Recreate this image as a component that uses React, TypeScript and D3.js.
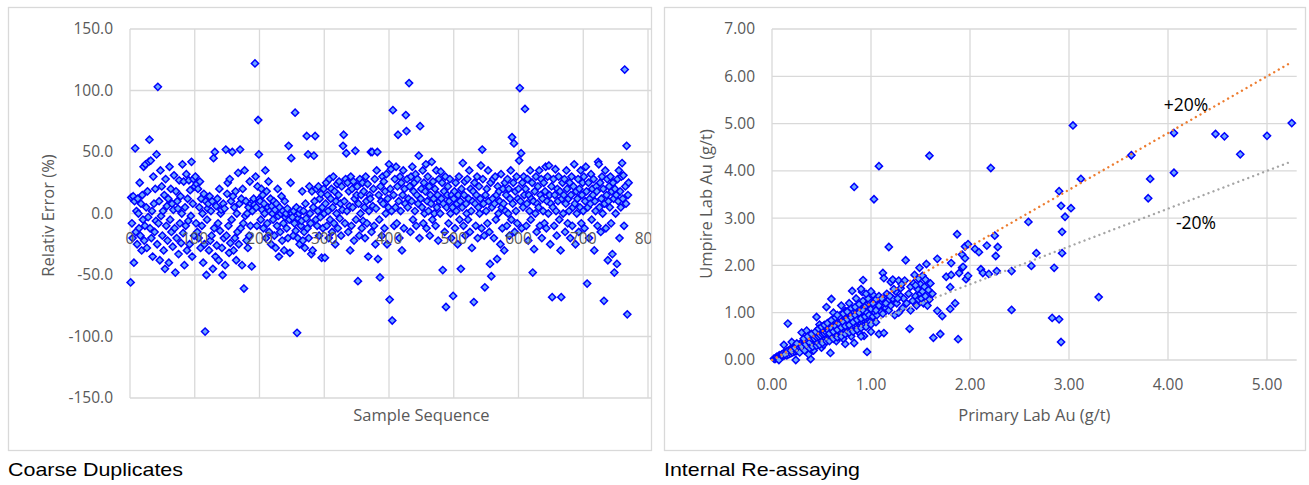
import React from "react";
import * as d3 from "d3";

// ---------- Coarse duplicates: relative error (%) by sample sequence (1..770) ----------
const coarseRelErr: number[] = [
  -56, 13, -8, -20, 14, -40, 10, 53, -15, 2,
  -25, 12, 0, -12, 25, -18, 8, -30, 15, -5,
  38, -22, -10, 40, 5, -28, 18, -3, 42, 60,
  -12, 43, -20, 2, -35, 30, 8, -15, 20, -6,
  48, -25, 103, -8, 10, -38, 35, -2, 22, -18,
  2, -30, 15, -45, 28, -10, 6, -22, 12, -40,
  38, -5, 20, -15, 8, -27, 3, 31, -12, -48,
  18, -20, 10, 4, -33, 27, -8, 14, -24, 0,
  40, -16, 26, -42, 5, -10, 32, -30, 12, -6,
  27, -25, 19, -2, 42, -35, 8, 28, -18, 22,
  30, -8, 24, -15, 20, -20, 5, 26, -28, 12,
  -10, 0, -40, 16, -25, -96, 10, -50, -5, 4,
  8, -30, 14, -22, 2, -18, 10, -45, 45, -12,
  50, -35, 6, -26, 12, -8, -38, 20, -14, 0,
  3, -28, -50, 8, -20, 4, -42, 52, -18, 16,
  25, -10, -32, 28, -24, 10, -5, 50, 14, -30,
  5, -20, 18, -38, 0, -15, 33, -25, 8, 52,
  -12, 12, -42, 20, -8, -61, 35, -2, 10, -22,
  0, -28, 5, -18, 26, -10, 8, -43, 2, 10,
  12, 7, 122, 30, 5, -10, 22, 76, 48, 12,
  10, -5, 20, 3, 15, -12, 8, 0, 35, -20,
  18, -8, 5, 26, -15, 2, 12, -25, 6, 0,
  -5, 10, -18, 3, -28, 8, -10, 20, -2, -35,
  5, -15, 0, 14, -22, 2, -8, -30, 10, -3,
  0, -12, 4, -20, 55, -5, -32, 25, 45, 0,
  -3, -18, 2, -8, 82, -14, 5, -97, -20, -4,
  0, -25, 3, -10, -6, 18, -22, 2, -15, -28,
  8, -4, 63, -12, 48, -20, 22, 0, -8, -33,
  18, -30, 5, 47, 10, 63, -5, 20, -10, 2,
  22, -18, 12, -3, 16, -36, 5, -12, 20, 0,
  -36, 8, 25, -10, 15, 2, -20, 28, -5, 12,
  20, -15, 5, 30, -8, 18, -25, 10, 0, 24,
  -12, 15, 26, -4, 8, -18, 22, 3, 55, 64,
  10, -8, 28, 49, 2, 25, -15, 18, 6, -30,
  30, -10, 20, 5, 26, -22, 12, 51, -5, 15,
  22, -55, 8, -18, 28, 0, 15, -12, 25, -6,
  18, 5, -20, 30, 10, -8, 24, -35, 2, 15,
  12, 50, -15, 50, 6, 20, -10, 28, -25, 4,
  35, 50, -37, 15, -5, -52, 22, 10, -18, 30,
  8, 26, -12, 18, 0, 32, -25, 12, 5, 40,
  -70, 20, 36, 2, -87, 84, 15, -10, 28, 5,
  38, -8, 22, 64, 10, -20, 30, 2, 25, -30,
  15, 35, -12, 20, 8, 80, 67, 28, 5, 12,
  106, 22, -15, 30, 10, 38, -5, 18, 25, 2,
  32, -10, 15, 28, 8, 47, -20, 71, 12, 20,
  5, 35, -8, 25, 0, 18, 40, -12, 10, 30,
  2, 22, -18, 15, 8, 42, -5, 26, 12, 0,
  20, -10, 35, 5, 15, -22, 28, 10, 0, 34,
  12, 25, -46, 8, 18, -15, 30, -76, 5, 15,
  22, -8, 10, 28, 0, -20, 15, 5, -67, 12,
  18, -12, 25, 2, 8, -25, 15, 30, -5, 10,
  -45, 20, 5, 41, -10, 15, 26, -18, 8, 0,
  28, -5, 12, 35, -15, 20, 2, -28, 10, 18,
  -72, 25, 8, -10, 15, 30, -20, 5, 22, 0,
  12, 39, -12, 52, 28, 8, -18, -60, 15, 2,
  20, -8, 35, 10, -15, -41, 25, -51, 5, 12,
  28, -20, 8, 30, -5, 15, -37, 22, 0, 18,
  10, -25, 32, 5, -12, 20, 8, -30, 25, 2,
  15, -10, 28, 0, 20, -18, 12, 35, -5, 62,
  8, 25, 57, -15, 18, 2, 30, -8, 12, 20,
  43, 102, 10, 49, -12, 25, 5, 30, 15, 85,
  20, -10, 8, 28, -22, 15, 2, 35, -5, 12,
  25, -48, 10, -29, 18, 0, 30, -15, 8, 22,
  5, 35, -10, 15, 28, -20, 12, 2, 25, -8,
  18, 38, -12, 10, 30, 0, 39, 15, -25, 8,
  22, -68, 5, 28, -10, 15, 36, 2, -18, 20,
  10, 30, -5, 18, -30, -68, 12, 25, 0, 15,
  28, -15, 8, 35, 20, -8, 12, 2, 25, -20,
  15, 30, -10, 5, 22, 40, 8, -25, 18, 0,
  12, 28, -15, 20, 5, 35, -8, 15, 25, 2,
  30, -12, 10, 38, 18, -57, 5, 25, -20, 12,
  8, 32, -5, 20, 15, 28, -30, 10, 2, 22,
  18, -10, 42, 40, 5, 25, -15, 12, 30, 0,
  20, -71, 8, 35, -12, 15, 28, -38, 10, 22,
  5, 30, -8, 18, -33, 25, 12, -48, 20, 0,
  15, -41, 28, 10, 35, -20, 18, 5, 30, 41,
  12, 31, -10, 117, 22, 8, 55, -82, 15, 25,
];

const coarseYTicks: number[] = [-150, -100, -50, 0, 50, 100, 150];
const coarseXTicks: number[] = [0, 100, 200, 300, 400, 500, 600, 700, 800, 900];

// ---------- Internal re-assaying: [primary Au g/t, umpire Au g/t] ----------
const reassayPairs: [number, number][] = [
  [0.02,0.03],[0.03,0.02],[0.04,0.05],[0.05,0.04],[0.05,0.07],[0.06,0.05],[0.07,0.09],[0.08,0.06],[0.08,0.1],[0.09,0.08],
  [0.1,0.12],[0.1,0.07],[0.11,0.1],[0.12,0.14],[0.12,0.09],[0.13,0.16],[0.14,0.11],[0.14,0.13],[0.15,0.18],[0.15,0.1],
  [0.16,0.15],[0.17,0.2],[0.17,0.12],[0.18,0.17],[0.18,0.22],[0.19,0.14],[0.2,0.19],[0.2,0.25],[0.21,0.16],[0.21,0.22],
  [0.22,0.2],[0.22,0.28],[0.23,0.18],[0.24,0.24],[0.24,0.3],[0.25,0.19],[0.25,0.26],[0.26,0.22],[0.26,0.33],[0.27,0.25],
  [0.28,0.21],[0.28,0.3],[0.29,0.27],[0.29,0.35],[0.3,0.24],[0.3,0.31],[0.31,0.28],[0.31,0.38],[0.32,0.26],[0.32,0.33],
  [0.16,0.77],[0.24,0.0],[0.39,0.02],[0.07,0.0],[0.12,0.32],[0.2,0.38],
  [0.33,0.3],[0.33,0.4],[0.34,0.28],[0.34,0.36],[0.35,0.32],[0.35,0.42],[0.36,0.3],[0.36,0.38],[0.37,0.35],[0.37,0.45],
  [0.38,0.31],[0.38,0.4],[0.39,0.36],[0.39,0.47],[0.4,0.33],[0.4,0.42],[0.41,0.38],[0.41,0.5],[0.42,0.35],[0.42,0.44],
  [0.43,0.4],[0.43,0.52],[0.44,0.37],[0.44,0.46],[0.45,0.42],[0.45,0.55],[0.46,0.38],[0.46,0.48],[0.47,0.44],[0.47,0.58],
  [0.48,0.4],[0.48,0.5],[0.49,0.46],[0.49,0.6],[0.5,0.42],[0.5,0.52],[0.51,0.48],[0.51,0.62],[0.52,0.44],[0.52,0.55],
  [0.53,0.5],[0.53,0.64],[0.54,0.46],[0.54,0.57],[0.55,0.52],[0.55,0.66],[0.56,0.47],[0.56,0.6],[0.57,0.54],[0.57,0.7],
  [0.58,0.49],[0.58,0.62],[0.59,0.56],[0.59,0.72],[0.6,0.5],[0.6,0.64],
  [0.45,0.91],[0.55,1.12],[0.6,1.29],[0.59,0.15],[0.37,0.12],[0.5,0.26],[0.42,0.2],[0.3,0.58],[0.35,0.62],[0.48,0.75],[0.52,0.32],
  [0.61,0.58],[0.61,0.74],[0.62,0.52],[0.62,0.66],[0.63,0.6],[0.63,0.78],[0.64,0.54],[0.64,0.68],[0.65,0.62],[0.65,0.8],
  [0.66,0.55],[0.66,0.7],[0.67,0.64],[0.67,0.82],[0.68,0.57],[0.68,0.72],[0.69,0.66],[0.69,0.85],[0.7,0.58],[0.7,0.74],
  [0.71,0.68],[0.71,0.88],[0.72,0.6],[0.72,0.76],[0.73,0.7],[0.73,0.9],[0.74,0.62],[0.74,0.34],[0.75,0.72],[0.75,0.92],
  [0.76,0.64],[0.76,0.8],[0.77,0.74],[0.77,0.95],[0.78,0.66],[0.78,0.82],[0.79,0.76],[0.79,0.98],[0.8,0.68],[0.8,0.85],
  [0.81,0.78],[0.81,1.46],[0.82,0.7],[0.82,0.88],[0.83,0.8],[0.83,1.02],[0.84,0.72],[0.84,0.9],[0.85,0.82],[0.85,1.05],
  [0.86,0.74],[0.86,0.92],[0.87,0.84],[0.87,1.08],[0.88,0.76],[0.88,0.95],[0.89,0.86],[0.89,1.1],[0.9,0.78],[0.9,0.97],
  [0.91,0.88],[0.91,1.44],[0.92,0.8],[0.92,1.69],[0.93,0.9],[0.93,1.12],[0.94,0.82],[0.94,1.02],[0.95,0.92],[0.95,1.15],
  [0.96,0.84],[0.96,0.17],[0.97,0.94],[0.97,1.2],[0.98,0.86],[0.98,1.05],[0.99,0.96],[0.99,1.22],[1.0,0.88],[1.0,1.08],
  [0.83,0.36],[0.65,0.4],[0.93,0.51],[0.74,1.04],[0.72,0.45],[0.8,0.5],[0.88,0.58],
  [0.11,0.13],[0.13,0.12],[0.16,0.19],[0.19,0.2],[0.23,0.26],[0.27,0.29],[0.3,0.28],[0.34,0.33],[0.36,0.41],[0.38,0.37],
  [0.4,0.46],[0.43,0.45],[0.45,0.48],[0.47,0.5],[0.49,0.52],[0.51,0.55],[0.53,0.56],[0.55,0.58],[0.57,0.62],[0.58,0.56],
  [0.6,0.68],[0.62,0.6],[0.64,0.72],[0.66,0.64],[0.68,0.76],[0.7,0.69],[0.72,0.8],[0.74,0.72],[0.76,0.86],[0.78,0.74],
  [0.8,0.9],[0.82,0.8],[0.84,0.95],[0.86,0.85],[0.88,1.0],[0.9,0.88],[0.92,1.05],[0.94,0.92],[0.96,1.0],[0.98,0.95],
  [0.63,0.86],[0.69,0.95],[0.75,1.02],[0.58,0.8],[0.52,0.72],[0.66,0.5],[0.77,0.6],[0.87,0.68],[0.93,0.72],[0.99,0.8],
  [0.25,0.35],[0.28,0.16],[0.32,0.45],[0.33,0.2],[0.36,0.5],[0.38,0.25],[0.4,0.55],[0.41,0.28],[0.44,0.6],[0.45,0.3],
  [0.47,0.66],[0.48,0.32],[0.5,0.7],[0.51,0.36],[0.53,0.74],[0.55,0.4],[0.56,0.78],[0.58,0.4],[0.6,0.84],[0.62,0.45],
  [0.64,0.9],[0.66,0.48],[0.68,0.92],[0.7,0.5],[0.72,0.98],[0.74,0.55],[0.76,1.02],[0.78,0.58],[0.8,1.1],[0.82,0.6],
  [0.84,1.12],[0.86,0.64],[0.88,1.18],[0.9,0.68],[0.92,1.25],[0.95,0.7],[0.97,1.3],[1.0,0.75],[1.02,1.38],[1.05,0.8],
  [0.85,1.3],[0.7,1.15],[0.62,1.0],[0.95,1.4],[1.0,1.45],[0.78,1.2],[0.9,0.5],[1.0,0.6],[0.9,1.5],[0.66,0.95],
  [1.02,0.92],[1.03,1.15],[1.04,1.0],[1.05,1.28],[1.06,0.95],[1.07,1.1],[1.08,0.55],[1.08,1.35],[1.1,1.02],[1.1,1.2],
  [1.12,1.84],[1.12,0.98],[1.13,1.73],[1.13,0.57],[1.14,1.3],[1.15,1.1],[1.16,1.4],[1.17,1.25],[1.18,2.39],[1.18,1.05],
  [1.2,1.65],[1.2,1.15],[1.22,1.7],[1.22,1.3],[1.24,0.95],[1.25,1.45],[1.26,1.2],[1.28,1.68],[1.28,1.0],[1.3,1.35],
  [1.3,1.52],[1.32,1.1],[1.33,1.3],[1.34,1.68],[1.35,2.11],[1.36,1.2],[1.38,1.4],[1.39,0.66],[1.4,1.05],[1.4,1.55],
  [1.42,1.25],[1.43,1.62],[1.44,1.8],[1.45,1.35],[1.46,1.15],[1.47,1.5],[1.48,1.72],[1.48,1.28],[1.49,1.95],[1.5,1.4],
  [1.5,1.6],[1.51,1.3],[1.52,1.78],[1.52,1.45],[1.53,1.2],[1.54,1.55],[1.55,1.35],[1.55,1.7],[1.56,2.03],[1.57,1.15],
  [1.58,1.48],[1.59,1.28],[1.6,1.62],[1.62,1.4],[1.63,0.47],[1.67,1.04],[1.67,2.14],[1.7,0.55],[1.72,0.93],
  [1.02,1.2],[1.05,1.05],[1.08,1.15],[1.11,1.3],[1.15,1.2],[1.19,1.35],[1.23,1.5],[1.27,1.3],[1.31,1.6],[1.45,1.58],
  [1.76,1.76],[1.8,1.54],[1.8,1.08],[1.81,1.8],[1.81,2.05],[1.85,1.2],[1.87,2.66],[1.88,0.44],[1.89,1.84],[1.92,1.95],
  [1.92,2.23],[1.93,1.97],[1.95,2.15],[1.95,2.4],[1.96,1.71],[1.98,1.78],[1.98,2.45],[2.05,2.35],[2.09,2.28],[2.11,1.92],
  [2.13,1.84],[2.17,2.42],[2.19,1.82],[2.21,4.06],[2.25,2.63],[2.26,2.2],[2.27,1.88],[2.28,2.39],[2.42,1.88],[2.42,1.06],
  [2.59,2.92],[2.62,1.99],[2.67,2.26],[2.83,0.89],[2.85,1.95],[2.9,0.86],[2.9,3.57],[2.92,0.38],[2.92,3.26],[2.93,2.26],
  [2.93,2.71],[2.96,3.03],[3.02,3.21],[3.04,4.96],[3.12,3.83],[3.3,1.33],[3.63,4.33],[3.8,3.42],[3.82,3.83],[4.06,4.8],
  [4.06,3.96],[4.48,4.78],[4.57,4.73],[4.73,4.35],[5.0,4.74],[5.25,5.01],
  [0.83,3.66],[1.03,3.4],[1.08,4.1],[1.59,4.32],
];

const reassayXTicks: number[] = [0, 1, 2, 3, 4, 5];
const reassayYTicks: number[] = [0, 1, 2, 3, 4, 5, 6, 7];
// +/-20% reference lines: [primary, umpire] end points
const plus20Line: [number, number][] = [[0, 0], [5.25, 6.3]];
const minus20Line: [number, number][] = [[0, 0], [5.25, 4.2]];

const GRID = "#D9D9D9";
const TXT = "#595959";
const FONT = "'Open Sans', sans-serif";

const diamond = (r: number) => `M0,${-r}L${r},0L0,${r}L${-r},0Z`;

function Marker({ x, y }: { x: number; y: number }) {
  return (
    <path
      d={diamond(3.6)}
      transform={`translate(${x},${y})`}
      fill="#6EA8FF"
      stroke="#0000FF"
      strokeWidth={1.5}
    />
  );
}

export default function App() {
  // Left chart scales
  const xL = d3.scaleLinear().domain([0, 900]).range([130, 712.75]);
  const yL = d3.scaleLinear().domain([-150, 150]).range([398, 29]);
  // Right chart scales
  const xR = d3.scaleLinear().domain([0, 5.3]).range([772, 1296.7]);
  const yR = d3.scaleLinear().domain([0, 7]).range([360, 29]);
  const line = d3
    .line<[number, number]>()
    .x((d) => xR(d[0]))
    .y((d) => yR(d[1]));

  return (
    <svg
      width={1309}
      height={485}
      style={{ position: "absolute", left: 0, top: 0, background: "#fff" }}
    >
      <defs>
        <clipPath id="leftClip">
          <rect x={8} y={7} width={643} height={444} />
        </clipPath>
      </defs>

      {/* ---------------- Left chart ---------------- */}
      <g clipPath="url(#leftClip)">
        {coarseYTicks.map((t) => (
          <line key={"lyg" + t} x1={xL(0)} x2={xL(900)} y1={yL(t)} y2={yL(t)} stroke={GRID} strokeWidth={1.3} />
        ))}
        {coarseXTicks.map((t) => (
          <line key={"lxg" + t} x1={xL(t)} x2={xL(t)} y1={yL(150)} y2={yL(-150)} stroke={GRID} strokeWidth={1.3} />
        ))}
        {coarseYTicks.map((t) => (
          <text key={"lyt" + t} x={113} y={yL(t)} dy="0.35em" textAnchor="end" fontFamily={FONT} fontSize={15.5} fill={TXT}>
            {t.toFixed(1)}
          </text>
        ))}
        {coarseRelErr.map((v, i) => (
          <Marker key={"lp" + i} x={xL(i + 1)} y={yL(v)} />
        ))}
        {coarseXTicks.map((t) => (
          <text key={"lxt" + t} x={xL(t)} y={yL(0) + 30} textAnchor="middle" fontFamily={FONT} fontSize={15.5} fill={TXT}>
            {t}
          </text>
        ))}
        <text
          transform={`translate(48,${(yL(150) + yL(-150)) / 2 + 2}) rotate(-90)`}
          textAnchor="middle"
          dy="0.35em"
          fontFamily={FONT}
          fontSize={16.5}
          fill={TXT}
        >
          Relativ Error (%)
        </text>
        <text x={(xL(0) + xL(900)) / 2} y={421} textAnchor="middle" fontFamily={FONT} fontSize={16.5} fill={TXT}>
          Sample Sequence
        </text>
      </g>
      <rect x={8.5} y={7.5} width={643} height={443} fill="none" stroke={GRID} strokeWidth={1.3} />
      <text x={8} y={476} fontFamily="'Liberation Sans', Arial, sans-serif" fontSize={18.5} fill="#000" textLength={175} lengthAdjust="spacingAndGlyphs">
        Coarse Duplicates
      </text>

      {/* ---------------- Right chart ---------------- */}
      {reassayYTicks.map((t) => (
        <line key={"ryg" + t} x1={xR(0)} x2={xR(5.3)} y1={yR(t)} y2={yR(t)} stroke={GRID} strokeWidth={1.3} />
      ))}
      {reassayXTicks.map((t) => (
        <line key={"rxg" + t} x1={xR(t)} x2={xR(t)} y1={yR(7)} y2={yR(0)} stroke={GRID} strokeWidth={1.3} />
      ))}
      {reassayYTicks.map((t) => (
        <text key={"ryt" + t} x={755} y={yR(t)} dy="0.35em" textAnchor="end" fontFamily={FONT} fontSize={15.5} fill={TXT}>
          {t.toFixed(2)}
        </text>
      ))}
      {reassayXTicks.map((t) => (
        <text key={"rxt" + t} x={xR(t)} y={390} textAnchor="middle" fontFamily={FONT} fontSize={15.5} fill={TXT}>
          {t.toFixed(2)}
        </text>
      ))}
      {reassayPairs.map((p, i) => (
        <Marker key={"rp" + i} x={xR(p[0])} y={yR(p[1])} />
      ))}
      <path d={line(minus20Line) || ""} fill="none" stroke="#A5A5A5" strokeWidth={2.4} strokeDasharray="0.01 5.3" strokeLinecap="round" />
      <path d={line(plus20Line) || ""} fill="none" stroke="#ED7D31" strokeWidth={2.4} strokeDasharray="0.01 5.3" strokeLinecap="round" />
      <text x={1186} y={105} dy="0.35em" textAnchor="middle" fontFamily={FONT} fontSize={17.5} fill="#000">
        +20%
      </text>
      <text x={1196} y={223} dy="0.35em" textAnchor="middle" fontFamily={FONT} fontSize={17.5} fill="#000">
        -20%
      </text>
      <text
        transform={`translate(706,204) rotate(-90)`}
        textAnchor="middle"
        dy="0.35em"
        fontFamily={FONT}
        fontSize={16.5}
        fill={TXT}
      >
        Umpire Lab Au (g/t)
      </text>
      <text x={(xR(0) + xR(5.3)) / 2} y={421} textAnchor="middle" fontFamily={FONT} fontSize={16.5} fill={TXT}>
        Primary Lab Au (g/t)
      </text>
      <rect x={664.5} y={7.5} width={641} height={443} fill="none" stroke={GRID} strokeWidth={1.3} />
      <text x={664} y={476} fontFamily="'Liberation Sans', Arial, sans-serif" fontSize={18.5} fill="#000" textLength={196} lengthAdjust="spacingAndGlyphs">
        Internal Re-assaying
      </text>
    </svg>
  );
}
